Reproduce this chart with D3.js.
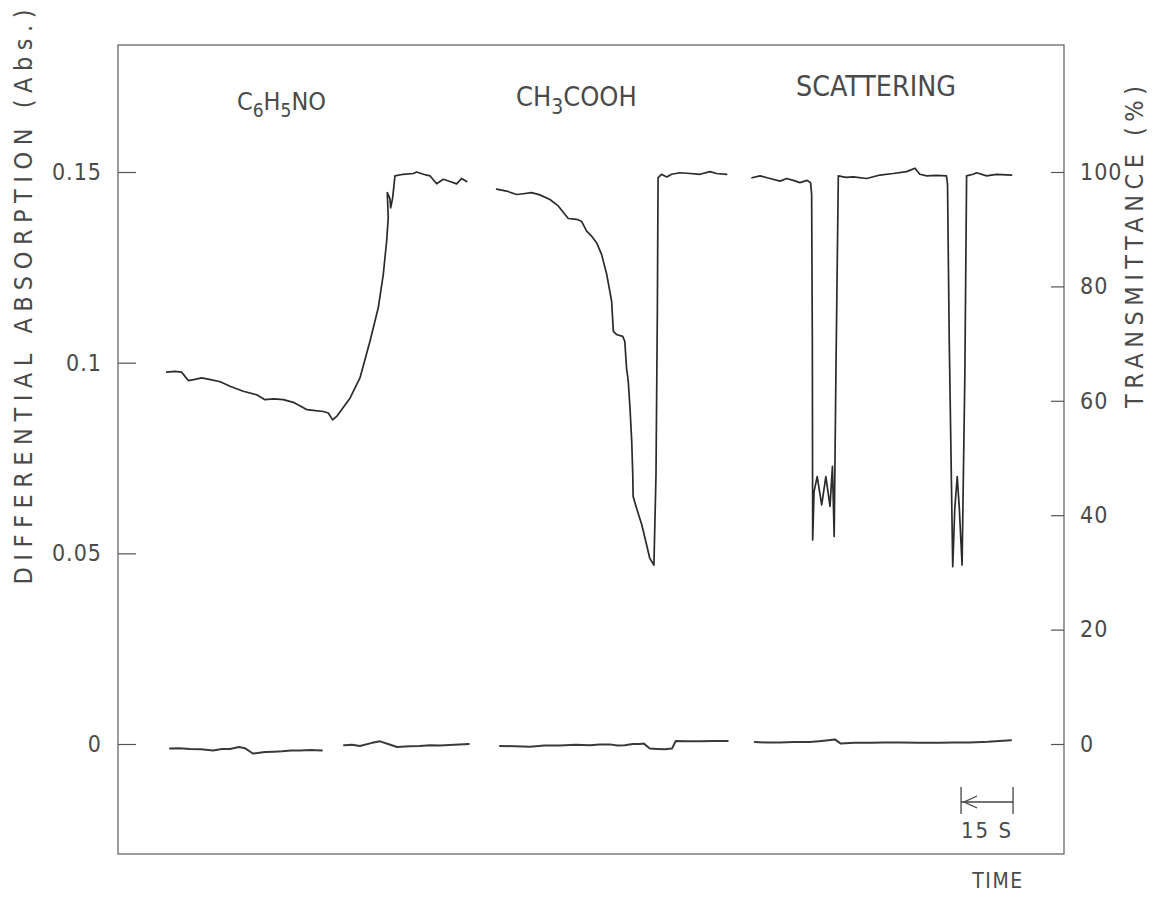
<!DOCTYPE html>
<html><head><meta charset="utf-8">
<script src="https://cdn.jsdelivr.net/npm/d3@7"></script>
<style>
body{margin:0;background:#fff;}
svg text{font-family:"DejaVu Sans Condensed","DejaVu Sans",sans-serif;fill:#4a4a4a;}
</style></head><body>
<svg id="chart" width="1158" height="902"></svg>
<script>
// time (s) vs differential absorption (Abs.)
const traceC6H5NO = [[14.05,0.0975],[16.44,0.0977],[18.37,0.0975],[19.32,0.0964],[20.28,0.0953],[22.2,0.0956],[24.14,0.0960],[27.03,0.0955],[29.5,0.0950],[32.3,0.0938],[36.14,0.0925],[40.01,0.0916],[42.4,0.0903],[45.0,0.0905],[47.68,0.0903],[50.56,0.0896],[54.43,0.0877],[57.0,0.0874],[59.22,0.0872],[60.66,0.0868],[61.93,0.0850],[63.08,0.0859],[66.92,0.0907],[69.8,0.0960],[72.69,0.1056],[75.08,0.1144],[76.52,0.1231],[77.5,0.1319],[77.96,0.1380],[77.68,0.1446],[78.45,0.1430],[78.66,0.1406],[79.23,0.1432],[79.9,0.1490],[82.29,0.1494],[85.17,0.1496],[86.16,0.1500],[88.06,0.1494],[89.99,0.1490],[91.92,0.1469],[93.83,0.1481],[95.76,0.1475],[97.69,0.1469],[99.13,0.1483],[100.58,0.1475]];
const traceCH3COOH = [[109.23,0.1455],[112.11,0.1450],[115.0,0.1441],[116.9,0.1443],[119.3,0.1446],[121.7,0.1440],[124.6,0.1428],[127.0,0.1411],[128.9,0.1389],[129.9,0.1378],[132.3,0.1376],[133.7,0.1371],[135.2,0.1345],[136.6,0.1332],[138.1,0.1314],[139.5,0.1284],[141.0,0.1231],[142.4,0.1161],[142.9,0.1082],[143.8,0.1074],[145.6,0.1069],[146.2,0.1056],[146.7,0.0986],[147.2,0.0951],[147.7,0.0881],[148.2,0.0793],[148.5,0.0706],[148.6,0.0649],[149.6,0.0618],[151.1,0.0575],[152.5,0.0522],[153.4,0.0487],[154.6,0.0469],[155.2,0.0706],[155.6,0.1144],[155.8,0.1485],[156.8,0.1494],[158.3,0.1487],[159.7,0.1494],[162.1,0.1498],[165.0,0.1496],[167.9,0.1494],[170.8,0.1501],[172.7,0.1496],[175.6,0.1494]];
const traceScattering = [[182.9,0.1485],[185.2,0.1490],[188.1,0.1483],[191.0,0.1476],[192.9,0.1483],[194.8,0.1478],[196.7,0.1472],[198.8,0.1478],[199.8,0.1472],[200.1,0.1441],[200.3,0.1056],[200.4,0.0535],[200.8,0.0662],[201.7,0.0701],[203.0,0.0627],[204.2,0.0701],[205.4,0.0623],[206.1,0.0728],[206.6,0.0544],[207.1,0.0969],[207.8,0.1490],[210.0,0.1486],[212.1,0.1487],[216.0,0.1483],[219.8,0.1492],[223.6,0.1496],[227.5,0.1501],[229.9,0.1510],[231.3,0.1494],[233.3,0.1490],[236.1,0.1491],[239.0,0.1490],[239.3,0.1468],[239.8,0.1056],[240.8,0.0465],[241.4,0.0618],[242.1,0.0701],[242.7,0.0618],[243.5,0.0469],[244.3,0.0969],[244.8,0.1490],[246.7,0.1494],[247.7,0.1498],[250.6,0.1490],[253.4,0.1494],[257.8,0.1492]];
const baseline1 = [[15.0,-0.0012],[17.5,-0.0011],[20.8,-0.0013],[24.0,-0.0014],[27.4,-0.0017],[30.0,-0.0013],[32.3,-0.0013],[34.9,-0.0008],[36.6,-0.0011],[38.9,-0.0025],[42.4,-0.0021],[45.0,-0.0020],[47.3,-0.0019],[50.0,-0.0017],[52.5,-0.0017],[55.5,-0.0016],[58.8,-0.0017]];
const baseline2 = [[65.2,-0.0003],[67.5,-0.0002],[69.8,-0.0005],[73.3,0.0003],[75.6,0.0007],[77.9,0.0000],[80.5,-0.0008],[84.0,-0.0006],[87.1,-0.0005],[90.0,-0.0003],[92.9,-0.0004],[97.0,-0.0002],[101.2,0.0000]];
const baseline3 = [[110.2,-0.0005],[114.5,-0.0006],[118.8,-0.0007],[123.0,-0.0004],[127.5,-0.0004],[132.0,-0.0002],[136.1,-0.0003],[139.0,-0.0001],[141.9,-0.0001],[144.0,-0.0004],[146.2,-0.0003],[148.5,0.0000],[150.6,0.0000],[151.7,0.0001],[153.4,-0.0012],[155.5,-0.0013],[157.8,-0.0014],[159.8,-0.0012],[160.9,0.0008],[164.0,0.0007],[167.9,0.0007],[172.0,0.0008],[175.9,0.0008]];
const baseline4 = [[183.7,0.0005],[187.0,0.0004],[190.9,0.0004],[195.0,0.0005],[199.6,0.0005],[203.0,0.0008],[206.8,0.0012],[208.5,0.0001],[212.5,0.0003],[217.2,0.0003],[221.0,0.0004],[225.6,0.0004],[231.0,0.0003],[237.1,0.0003],[241.0,0.0004],[245.7,0.0004],[251.0,0.0006],[257.6,0.0010]];

const leftTicks = [0, 0.05, 0.1, 0.15];
const leftTickLabels = ["0", "0.05", "0.1", "0.15"];
const rightTicks = [0, 20, 40, 60, 80, 100];
const rightTickLabels = ["0", "20", "40", "60", "80", "100"];
const scaleBar = {start: 243.2, seconds: 15, label: "15 S"};

const svg = d3.select("#chart");
const F = {left:118, right:1064, top:45, bottom:854};
const x = d3.scaleLinear().domain([0, 272.9]).range([F.left, F.right]);
const y = d3.scaleLinear().domain([0, 0.15]).range([744, 172]);
const yR = d3.scaleLinear().domain([0, 100]).range([744, 172]);

// frame
svg.append("rect").attr("x", F.left).attr("y", F.top)
  .attr("width", F.right - F.left).attr("height", F.bottom - F.top)
  .attr("fill", "none").attr("stroke", "#5a5a5a").attr("stroke-width", 1.2);

// left axis
const gL = svg.append("g").attr("transform", `translate(${F.left},0)`)
  .call(d3.axisLeft(y).tickValues(leftTicks).tickSize(-18).tickPadding(16)
    .tickFormat((d,i) => leftTickLabels[i]));
gL.select(".domain").remove();
gL.selectAll("line").attr("stroke", "#555").attr("stroke-width", 1.2);
gL.selectAll("text").attr("font-size", 23).attr("letter-spacing", 1)
  .attr("fill", "#4a4a4a").attr("font-family", null);

// right axis
const gR = svg.append("g").attr("transform", `translate(${F.right},0)`)
  .call(d3.axisRight(yR).tickValues(rightTicks).tickSize(-13).tickPadding(16)
    .tickFormat((d,i) => rightTickLabels[i]));
gR.select(".domain").remove();
gR.selectAll("line").attr("stroke", "#555").attr("stroke-width", 1.2);
gR.selectAll("text").attr("font-size", 23).attr("letter-spacing", 1)
  .attr("fill", "#4a4a4a").attr("font-family", null);

// traces
const line = d3.line().x(d => x(d[0])).y(d => y(d[1])).curve(d3.curveLinear);
[traceC6H5NO, traceCH3COOH, traceScattering].forEach(t => {
  svg.append("path").datum(t).attr("d", line).attr("fill", "none")
    .attr("stroke", "#2b2b2b").attr("stroke-width", 1.7)
    .attr("stroke-linejoin", "round").attr("stroke-linecap", "round");
});
[baseline1, baseline2, baseline3, baseline4].forEach(t => {
  svg.append("path").datum(t).attr("d", line).attr("fill", "none")
    .attr("stroke", "#3a3a3a").attr("stroke-width", 2)
    .attr("stroke-linejoin", "round").attr("stroke-linecap", "round");
});

// axis titles
svg.append("text").attr("transform", "translate(32,297) rotate(-90)")
  .attr("text-anchor", "middle").attr("font-size", 25)
  .attr("textLength", 575).attr("lengthAdjust", "spacing")
  .text("DIFFERENTIAL ABSORPTION (Abs.)");
svg.append("text").attr("transform", "translate(1143,247) rotate(-90)")
  .attr("text-anchor", "middle").attr("font-size", 25)
  .attr("textLength", 322).attr("lengthAdjust", "spacing")
  .text("TRANSMITTANCE (%)");

// series labels
const t1 = svg.append("text").attr("x", 237).attr("y", 110).attr("font-size", 25).attr("fill", "#777");
t1.append("tspan").text("C");
t1.append("tspan").attr("dy", 7).attr("font-size", 19).text("6");
t1.append("tspan").attr("dy", -7).text("H");
t1.append("tspan").attr("dy", 7).attr("font-size", 19).text("5");
t1.append("tspan").attr("dy", -7).text("NO");

const t2 = svg.append("text").attr("x", 516).attr("y", 106).attr("font-size", 27);
t2.append("tspan").text("CH");
t2.append("tspan").attr("dy", 8).attr("font-size", 21).text("3");
t2.append("tspan").attr("dy", -8).text("COOH");

svg.append("text").attr("x", 796).attr("y", 96).attr("font-size", 29)
  .attr("textLength", 160).attr("lengthAdjust", "spacingAndGlyphs").text("SCATTERING");

// scale bar
const sx0 = x(scaleBar.start), sx1 = x(scaleBar.start + scaleBar.seconds), sy = 802;
const sb = svg.append("g").attr("stroke", "#444").attr("stroke-width", 1.3).attr("fill", "none");
sb.append("line").attr("x1", sx0).attr("x2", sx1).attr("y1", sy).attr("y2", sy);
sb.append("line").attr("x1", sx0).attr("x2", sx0).attr("y1", 787).attr("y2", 814);
sb.append("line").attr("x1", sx1).attr("x2", sx1).attr("y1", 787).attr("y2", 814);
sb.append("path").attr("d", `M${sx0+16},${sy-6} L${sx0+3},${sy} L${sx0+16},${sy+6}`);
svg.append("text").attr("x", (sx0+sx1)/2).attr("y", 838).attr("text-anchor", "middle")
  .attr("font-size", 22).attr("letter-spacing", 2).text(scaleBar.label);

svg.append("text").attr("x", 998).attr("y", 888).attr("text-anchor", "middle")
  .attr("font-size", 21).attr("letter-spacing", 1.5).text("TIME");
</script>
</body></html>
